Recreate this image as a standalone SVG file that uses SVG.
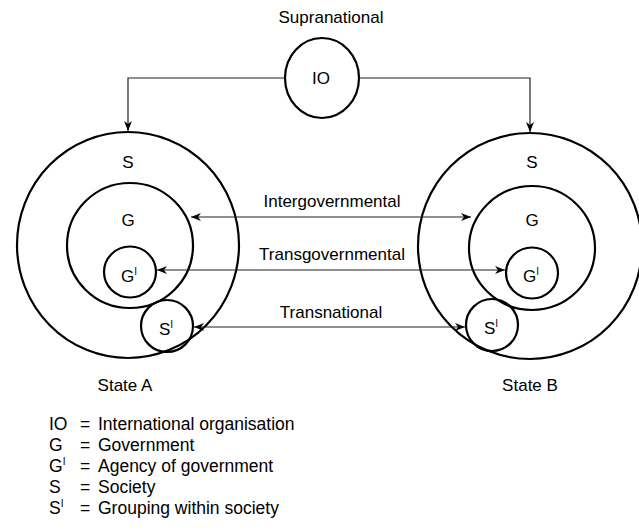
<svg xmlns="http://www.w3.org/2000/svg" width="639" height="532" viewBox="0 0 639 532">
<defs>
<style>
.c{fill:none;stroke:#000;stroke-width:2.2}
.l{fill:none;stroke:#222;stroke-width:1.2}
text{font-family:"Liberation Sans",Arial,sans-serif;fill:#000}
.t{font-size:17px;text-anchor:middle}
.k{font-size:17.5px}
.sup{font-size:10px}
</style>
<marker id="ah" viewBox="0 0 10 8" refX="10" refY="4" markerWidth="10" markerHeight="8" markerUnits="userSpaceOnUse" orient="auto-start-reverse">
<path d="M0,0 L10,4 L0,8 L3,4 z" fill="#000"/>
</marker>
</defs>
<rect width="639" height="532" fill="#fff"/>

<g id="supranational-label"><text class="t" x="331" y="23">Supranational</text></g>

<g id="IO">
<ellipse class="c" cx="322" cy="78" rx="37" ry="40"/>
<text class="t" x="321" y="84">IO</text>
</g>

<g id="stateA">
<ellipse class="c" cx="128" cy="245" rx="111" ry="113"/>
<text class="t" x="128" y="168">S</text>
<text class="t" x="125" y="391">State A</text>
</g>
<g id="stateA-G">
<ellipse class="c" cx="130" cy="245.5" rx="63" ry="62.5"/>
<text class="t" x="128" y="226">G</text>
</g>
<g id="stateA-G1">
<ellipse class="c" cx="130" cy="272" rx="26" ry="25.5"/>
<text class="t" x="129" y="282">G<tspan class="sup" dy="-7">I</tspan></text>
</g>
<g id="stateA-S1">
<ellipse class="c" cx="167" cy="326" rx="26" ry="26"/>
<text class="t" x="166" y="335">S<tspan class="sup" dy="-7">I</tspan></text>
</g>

<g id="stateB">
<ellipse class="c" cx="530" cy="246" rx="112" ry="113"/>
<text class="t" x="532" y="168">S</text>
<text class="t" x="530" y="391">State B</text>
</g>
<g id="stateB-G">
<ellipse class="c" cx="532" cy="248" rx="63" ry="62"/>
<text class="t" x="532" y="226">G</text>
</g>
<g id="stateB-G1">
<ellipse class="c" cx="532" cy="273" rx="26" ry="25.5"/>
<text class="t" x="531" y="282">G<tspan class="sup" dy="-7">I</tspan></text>
</g>
<g id="stateB-S1">
<ellipse class="c" cx="492" cy="325" rx="26" ry="26"/>
<text class="t" x="491" y="334">S<tspan class="sup" dy="-7">I</tspan></text>
</g>

<g id="connectors">
<path class="l" d="M285,78 H128 V131" marker-end="url(#ah)"/>
<path class="l" d="M359,78 H530 V132" marker-end="url(#ah)"/>
<line class="l" x1="191" y1="217" x2="471" y2="217" marker-start="url(#ah)" marker-end="url(#ah)"/>
<text class="t" x="332" y="207">Intergovernmental</text>
<line class="l" x1="157" y1="270" x2="505" y2="270" marker-start="url(#ah)" marker-end="url(#ah)"/>
<text class="t" x="332" y="260">Transgovernmental</text>
<line class="l" x1="194" y1="327" x2="465" y2="327" marker-start="url(#ah)" marker-end="url(#ah)"/>
<text class="t" x="331" y="318">Transnational</text>
</g>

<g id="legend">
<text class="k" x="49" y="430">IO</text>
<text class="k" x="80" y="430">=</text>
<text class="k" x="98" y="430">International organisation</text>
<text class="k" x="49" y="451">G</text>
<text class="k" x="80" y="451">=</text>
<text class="k" x="98" y="451">Government</text>
<text class="k" x="49" y="472">G<tspan class="sup" dy="-7">I</tspan></text>
<text class="k" x="80" y="472">=</text>
<text class="k" x="98" y="472">Agency of government</text>
<text class="k" x="49" y="493">S</text>
<text class="k" x="80" y="493">=</text>
<text class="k" x="98" y="493">Society</text>
<text class="k" x="49" y="514">S<tspan class="sup" dy="-7">I</tspan></text>
<text class="k" x="80" y="514">=</text>
<text class="k" x="98" y="514">Grouping within society</text>
</g>
</svg>
